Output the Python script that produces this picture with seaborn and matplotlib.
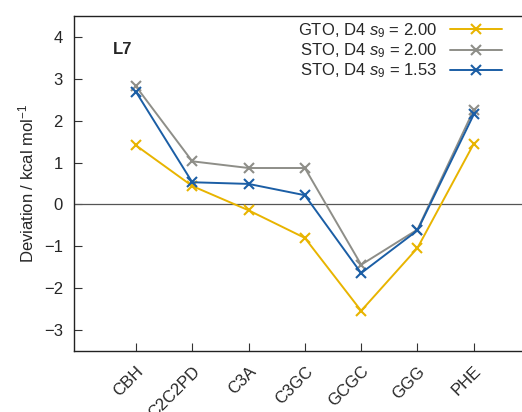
import matplotlib
matplotlib.use("Agg")
import matplotlib.pyplot as plt
import seaborn as sns
import pandas as pd

categories = ["CBH", "C2C2PD", "C3A", "C3GC", "GCGC", "GGG", "PHE"]
gto_200 = [1.41, 0.44, -0.14, -0.80, -2.54, -1.04, 1.45]
sto_200 = [2.82, 1.03, 0.87, 0.87, -1.44, -0.60, 2.26]
sto_153 = [2.69, 0.53, 0.49, 0.22, -1.64, -0.62, 2.15]
series_labels = ["GTO, D4 $s_9$ = 2.00", "STO, D4 $s_9$ = 2.00", "STO, D4 $s_9$ = 1.53"]
series_colors = ["#E8B400", "#8E8E88", "#1B5EA5"]
y_ticks = [-3, -2, -1, 0, 1, 2, 3, 4]

sns.set_style("ticks")
plt.rcParams["font.family"] = ["Liberation Sans", "DejaVu Sans"]
plt.rcParams["mathtext.fontset"] = "custom"
plt.rcParams["mathtext.rm"] = "Liberation Sans"
plt.rcParams["mathtext.it"] = "Liberation Sans:italic"
plt.rcParams["mathtext.bf"] = "Liberation Sans:bold"

rows = []
for lab, vals in zip(series_labels, [gto_200, sto_200, sto_153]):
    for c, v in zip(categories, vals):
        rows.append({"cat": c, "val": v, "series": lab})
df = pd.DataFrame(rows)

fig = plt.figure(figsize=(5.22, 4.12), dpi=100)
ax = fig.add_axes([74 / 522, 61 / 412, 461.7 / 522, 335 / 412])

ax.axhline(0, color="#555555", lw=0.9, zorder=1)
for lab, col in zip(series_labels, series_colors):
    sns.lineplot(data=df[df["series"] == lab], x="cat", y="val", ax=ax,
                 color=col, lw=1.4, marker="x", markersize=7, mew=1.5,
                 markeredgecolor=col, label=lab, sort=False, zorder=3)

ax.set_xlim(-1.1, 7.1)
ax.set_ylim(-3.5, 4.5)
ax.set_yticks(y_ticks)
ax.set_yticklabels([str(t).replace("-", "\u2212") for t in y_ticks])
ax.set_xlabel("")
ax.set_ylabel("Deviation / kcal mol$^{-1}$", fontsize=12, labelpad=5.5)
ax.tick_params(axis="both", direction="in", length=6, width=0.8, labelsize=12,
               color="#333333")
ax.tick_params(axis="y", pad=8)
ax.tick_params(axis="x", pad=9)
plt.setp(ax.get_xticklabels(), rotation=45, ha="right", va="top",
         rotation_mode="anchor")
for s in ax.spines.values():
    s.set_linewidth(1.0)
    s.set_color("#222222")

ax.text(0.0845, 0.8866, "L7", transform=ax.transAxes, fontsize=12,
        fontweight="bold", va="baseline", ha="left")

leg = ax.legend(loc="upper right", bbox_to_anchor=(502 / 522, 391 / 412),
                bbox_transform=fig.transFigure, frameon=False, markerfirst=False,
                fontsize=12, handlelength=3.1, handletextpad=0.8,
                labelspacing=0.1, borderpad=0, borderaxespad=0)

fig.savefig("out.png", dpi=100)
